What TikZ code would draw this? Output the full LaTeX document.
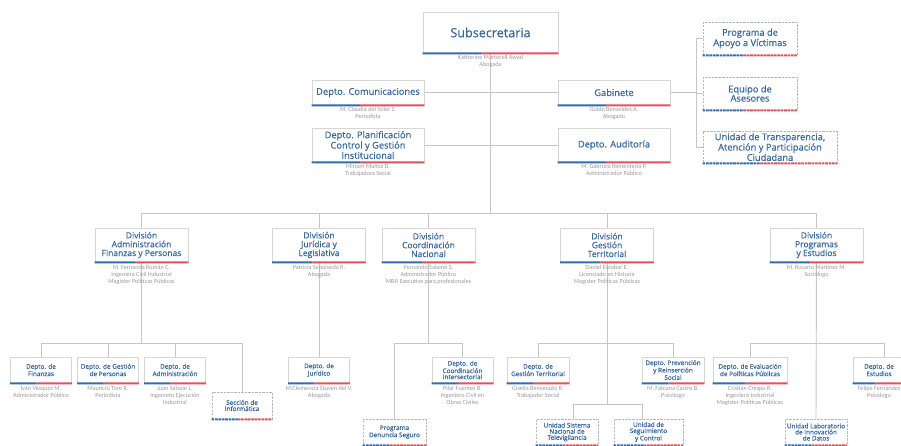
\documentclass[tikz,border=0pt]{standalone}
\usepackage{fontspec}
\setmainfont{Open Sans}[FakeBold=0.35]
\newfontfamily\namefont{Carlito}
\usetikzlibrary{calc}
\definecolor{headblue}{HTML}{3467A6}
\definecolor{boxgray}{HTML}{D6D6D6}
\definecolor{linegray}{HTML}{C6C6C6}
\definecolor{stripeblue}{HTML}{2F6DB5}
\definecolor{stripered}{HTML}{E5505A}
\definecolor{namegray}{HTML}{9A9A9A}
\pgfdeclarelayer{back}
\pgfdeclarelayer{bg}
\pgfsetlayers{back,bg,main}
\tikzset{
 box/.style={draw=boxgray, fill=white, line width=0.8pt, inner sep=0pt, align=center, text=headblue},
 dbox/.style={box, dash pattern=on 2.2pt off 1.3pt, draw=black!28},
 tA/.style={font=\fontsize{12.6}{13}\selectfont},
 tB/.style={font=\fontsize{9.3}{9.2}\selectfont},
 tBB/.style={font=\fontsize{9.3}{8.6}\selectfont},
 tC/.style={font=\fontsize{8.5}{8.8}\selectfont},
 tD/.style={font=\fontsize{6.4}{6.1}\selectfont},
 nm/.style={font=\namefont\fontsize{6.2}{6.9}\selectfont, text=namegray, align=center, inner sep=0pt, anchor=north},
 conn/.style={draw=linegray, line width=0.9pt},
 sB/.style={draw=stripeblue, line width=2pt},
 sR/.style={draw=stripered, line width=2pt},
}
\newcommand\stripe[1]{%
 \draw[sB] (#1.south west) -- ($(#1.south west)!0.43!(#1.south east)$);
 \draw[sR] ($(#1.south west)!0.43!(#1.south east)$) -- (#1.south east);}
\newcommand\dstripe[1]{%
 \draw[sB,dash pattern=on 2.6pt off 0.8pt] (#1.south west) -- ($(#1.south west)!0.43!(#1.south east)$);
 \draw[sR,dash pattern=on 2.6pt off 0.8pt] ($(#1.south west)!0.43!(#1.south east)$) -- (#1.south east);}
\begin{document}
\begin{tikzpicture}[x=1pt,y=-1pt]
\begin{pgfonlayer}{back}
\fill[white] (0,0) rectangle (901,445);
\end{pgfonlayer}
\useasboundingbox (0,0) rectangle (901,445);
\clip (0,0) rectangle (901,445);
% level 1 & 2
\node[box,tA,minimum width=135pt,minimum height=41pt] (sub) at (490.5,32.5) {Subsecretaria};
\node[box,tB,minimum width=112pt,minimum height=25pt] (com) at (368,92.5) {Depto. Comunicaciones};
\node[box,tB,minimum width=112pt,minimum height=34pt] (plan) at (368,145) {Depto. Planificación\\Control y Gestión\\Institucional};
\node[box,tB,minimum width=112pt,minimum height=25pt] (gab) at (614,92.5) {Gabinete};
\node[box,tB,minimum width=112pt,minimum height=34pt] (aud) at (614,145) {Depto. Auditoría};
\node[dbox,tB,minimum width=94pt,minimum height=33pt] (prog) at (750,38.5) {Programa de\\Apoyo a Víctimas};
\node[dbox,tB,minimum width=94pt,minimum height=33pt] (equi) at (750,93.5) {Equipo de\\Asesores};
\node[dbox,tBB,minimum width=134pt,minimum height=32pt] (unid) at (770,147) {Unidad de Transparencia,\\Atención y Participación\\Ciudadana};
% divisions
\node[box,tC,minimum width=93pt,minimum height=34pt] (dadm) at (141.5,245) {División\\Administración\\Finanzas y Personas};
\node[box,tC,minimum width=93pt,minimum height=34pt] (djur) at (319,245) {División\\Jurídica y\\Legislativa};
\node[box,tC,minimum width=93pt,minimum height=34pt] (dcoo) at (428.5,245) {División\\Coordinación\\Nacional};
\node[box,tC,minimum width=93pt,minimum height=34pt] (dter) at (607,245) {División\\Gestión\\Territorial};
\node[box,tC,minimum width=93pt,minimum height=34pt] (dpro) at (816.5,245) {División\\Programas\\y Estudios};
% bottom level
\node[box,tD,minimum width=61pt,minimum height=26pt] (fin) at (41,370) {Depto. de\\Finanzas};
\node[box,tD,minimum width=61pt,minimum height=26pt] (gper) at (108,370) {Depto. de Gestión\\de Personas};
\node[box,tD,minimum width=61pt,minimum height=26pt] (dadmin) at (175,370) {Depto. de\\Administración};
\node[dbox,tD,minimum width=60pt,minimum height=27pt] (secinf) at (242,405.5) {Sección de\\Informática};
\node[box,tD,minimum width=61pt,minimum height=26pt] (djuri) at (319,370) {Depto. de\\Jurídico};
\node[dbox,tD,minimum width=63pt,minimum height=26pt] (pds) at (394.5,432) {Programa\\Denuncia Seguro};
\node[box,tD,minimum width=61pt,minimum height=26pt] (dcoord) at (462.5,370) {Depto. de\\Coordinación\\Intersectorial};
\node[box,tD,minimum width=62pt,minimum height=26pt] (dgt) at (538,370) {Depto. de\\Gestión Territorial};
\node[box,tD,minimum width=62pt,minimum height=26pt] (dprev) at (673,370) {Depto. Prevención\\y Reinserción\\Social};
\node[dbox,tD,minimum width=62pt,minimum height=26pt] (usnt) at (567,432) {Unidad Sistema\\Nacional de\\Televigilancia};
\node[dbox,tD,minimum width=69pt,minimum height=26pt] (useg) at (648.5,432) {Unidad de\\Seguimiento\\y Control};
\node[box,tD,minimum width=74pt,minimum height=26pt] (deval) at (750,370) {Depto. de Evaluación\\de Políticas Públicas};
\node[box,tD,minimum width=52pt,minimum height=26pt] (dest) at (879,370) {Depto. de\\Estudios};
\node[dbox,tD,minimum width=62pt,minimum height=26pt] (ulab) at (816,432) {Unidad Laboratorio\\de Innovación\\de Datos};
% stripes
\foreach \n in {sub,com,plan,gab,aud,dadm,djur,dcoo,dter,dpro,fin,gper,dadmin,djuri,dcoord,dgt,dprev,deval,dest} {\stripe{\n}}
\foreach \n in {prog,equi,unid,secinf,pds,usnt,useg,ulab} {\dstripe{\n}}
% names
\node[nm] (sub-n) at ([yshift=-2pt]sub.south) {Katherine Martorell Awad\\Abogada};
\node[nm] (com-n) at ([yshift=-1.5pt]com.south) {M. Claudia del Solar Z.\\Periodista};
\node[nm] (plan-n) at ([yshift=-1.5pt]plan.south) {Miriam Muñoz D.\\Trabajadora Social};
\node[nm] (gab-n) at ([yshift=-1.5pt]gab.south) {Guido Benavides A.\\Abogado};
\node[nm] (aud-n) at ([yshift=-1.5pt]aud.south) {M. Gabriela Rementería P.\\Administrador Público};
\node[nm] (dadm-n) at ([yshift=-2.5pt]dadm.south) {M. Fernanda Román C.\\Ingeniera Civil Industrial\\Magister Políticas Públicas};
\node[nm] (djur-n) at ([yshift=-2.5pt]djur.south) {Patricia Sepúlveda R.\\Abogada};
\node[nm] (dcoo-n) at ([yshift=-2.5pt]dcoo.south) {Fernando Salamé S.\\Administrador Público\\MBA Executive para profesionales};
\node[nm] (dter-n) at ([yshift=-2.5pt]dter.south) {Daniel Escobar E.\\Licenciado en Historia\\Magister Políticas Públicas};
\node[nm] (dpro-n) at ([yshift=-2.5pt]dpro.south) {M. Rosario Martínez M.\\Sociólogo};
\node[nm] (fin-n) at ([yshift=-3pt]fin.south) {Iván Vásquez M.\\Administrador Público};
\node[nm] (gper-n) at ([yshift=-3pt]gper.south) {Mauricio Toro R.\\Periodista};
\node[nm] (dadmin-n) at ([yshift=-3pt]dadmin.south) {Juan Salazar L.\\Ingeniero Ejecución\\Industrial};
\node[nm] (djuri-n) at ([yshift=-3pt]djuri.south) {M.Clemencia Stuven del V.\\Abogada};
\node[nm] (dcoord-n) at ([yshift=-3pt]dcoord.south) {Pilar Fuentes B.\\Ingeniero Civil en\\Obras Civiles};
\node[nm] (dgt-n) at ([yshift=-3pt]dgt.south) {Gisella Benvenuto R.\\Trabajador Social};
\node[nm] (dprev-n) at ([yshift=-3pt]dprev.south) {M. Fabiana Castro B.\\Psicólogo};
\node[nm] (deval-n) at ([yshift=-3pt]deval.south) {Cristián Crespo R.\\Ingeniero Industrial\\Magister Políticas Públicas};
\node[nm] (dest-n) at ([yshift=-3pt]dest.south) {Felipe Fernández\\Psicólogo};
% connectors
\coordinate (bar) at (490,213);
\coordinate (sbar) at (0,343);
\coordinate (tbar) at (0,404);
\coordinate (rj) at (696,0);
\coordinate (ua) at (573,0);
\coordinate (ub) at (642,0);
\coordinate (dx) at (884,0);
\begin{pgfonlayer}{bg}
\draw[conn] (sub.south) -- (sub.south |- bar);
\draw[conn] (com.east) -- (com.east -| sub.south);
\draw[conn] (plan.east) -- (plan.east -| sub.south);
\draw[conn] (gab.west) -- (gab.west -| sub.south);
\draw[conn] (aud.west) -- (aud.west -| sub.south);
\draw[conn] (gab.east) -- (gab.east -| rj);
\draw[conn] (rj |- prog.west) -- (rj |- unid.west);
\foreach \n in {prog,equi,unid} {\draw[conn] (rj |- \n.west) -- (\n.west);}
\draw[conn] (dadm.north |- bar) -- (dpro.north |- bar);
\foreach \n in {dadm,djur,dcoo,dter,dpro} {\draw[conn] (\n.north |- bar) -- (\n.north);}
\draw[conn] (dadm.south) -- (dadm.south |- sbar);
\draw[conn] (fin.north |- sbar) -- (secinf.north |- sbar);
\foreach \n in {fin,gper,dadmin,secinf} {\draw[conn] (\n.north |- sbar) -- (\n.north);}
\draw[conn] (djur.south) -- (djuri.north);
\draw[conn] (dcoo.south) -- (dcoo.south |- sbar);
\draw[conn] (pds.north |- sbar) -- (dcoord.north |- sbar);
\foreach \n in {pds,dcoord} {\draw[conn] (\n.north |- sbar) -- (\n.north);}
\draw[conn] (dter.south) -- (dter.south |- tbar);
\draw[conn] (dgt.north |- sbar) -- (dprev.north |- sbar);
\foreach \n in {dgt,dprev} {\draw[conn] (\n.north |- sbar) -- (\n.north);}
\draw[conn] (ua |- usnt.north) -- (ua |- tbar) -- (ub |- tbar) -- (ub |- useg.north);
\draw[conn] (dpro.south) -- (ulab.north);
\draw[conn] (deval.north) -- (deval.north |- sbar) -- (dx |- sbar) -- (dx |- dest.north);
\end{pgfonlayer}
\end{tikzpicture}
\end{document}
